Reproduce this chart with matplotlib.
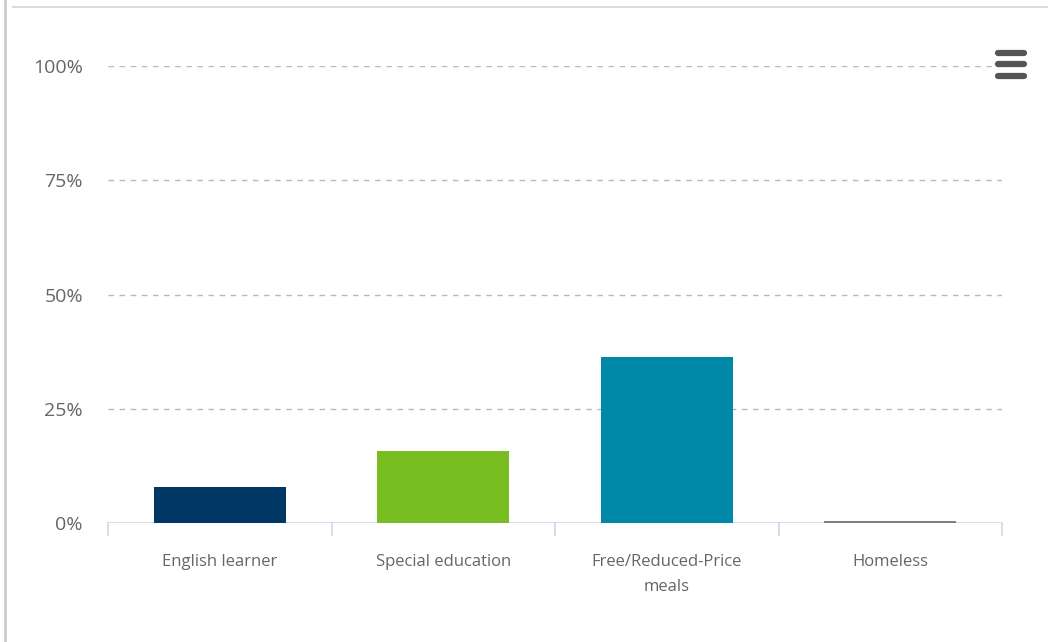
import numpy as np
import matplotlib.pyplot as plt
from matplotlib.lines import Line2D

# Datos
categorias = ['English learner', 'Special education', 'Free/Reduced-Price\nmeals', 'Homeless']
valores = [7.9, 15.8, 36.4, 0.4]
colores = ['#003764', '#78be20', '#0088a9', '#7f7f7f']
ticks_y = [0, 25, 50, 75, 100]
etiquetas_y = ['0%', '25%', '50%', '75%', '100%']

plt.rcParams['font.family'] = ['Open Sans', 'DejaVu Sans']

fig = plt.figure(figsize=(10.48, 6.42), dpi=100)
ax = fig.add_axes([108/1048, 1 - 523/642, 894/1048, 457/642])

x = np.arange(len(categorias))
ax.bar(x, valores, width=0.59, color=colores, zorder=5)

ax.set_xlim(-0.5, len(categorias) - 0.5)
ax.set_ylim(0, 100)

# rejilla punteada
for yv in ticks_y[1:]:
    ax.axhline(yv, color='#b8b8b8', lw=1, ls=(0, (4, 4)), zorder=1)
ax.axhline(0, color='#ccd6eb', lw=1.2, zorder=4)

ax.set_yticks(ticks_y)
ax.set_yticklabels(etiquetas_y, fontsize=14, color='#666666')
ax.tick_params(axis='y', length=0, pad=18)

ax.set_xticks(x)
ax.set_xticklabels(categorias, fontsize=12, color='#666666', linespacing=1.75)
ax.tick_params(axis='x', length=0, pad=22)

# marcas entre categorias
for b in np.arange(-0.5, len(categorias), 1.0):
    ax.plot([b, b], [0, -2.6], color='#ccd6eb', lw=1.2, clip_on=False, zorder=4)

for s in ax.spines.values():
    s.set_visible(False)

# bordes del contenedor
fig.add_artist(Line2D([5/1048, 5/1048], [0, 1], color='#cccccc', lw=2))
fig.add_artist(Line2D([13/1048, 1], [1 - 7/642, 1 - 7/642], color='#dddddd', lw=1.5))

# icono de menu
for yy in [53, 64, 76]:
    fig.add_artist(Line2D([998/1048, 1024/1048], [1 - yy/642, 1 - yy/642],
                          color='#555555', lw=4.5, solid_capstyle='round'))

fig.savefig('out.png', dpi=100)
